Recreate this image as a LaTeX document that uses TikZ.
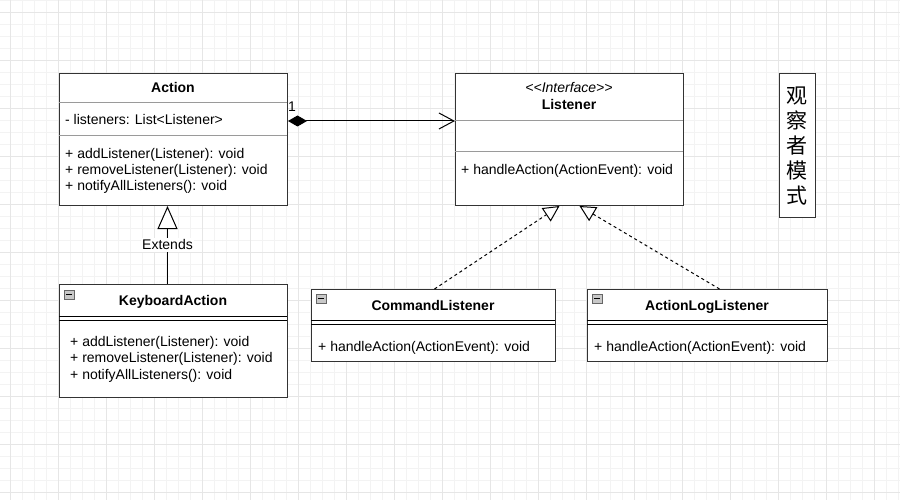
\documentclass[tikz,border=0pt]{standalone}
\usepackage{fontspec}
\setmainfont{Liberation Sans}
\newfontfamily\cjk{Noto Sans CJK SC}
\usetikzlibrary{arrows.meta,calc}
\definecolor{boxc}{HTML}{333333}
\definecolor{divc}{HTML}{9A9A9A}
\definecolor{gridminor}{HTML}{F3F3F3}
\definecolor{gridmajor}{HTML}{E6E6E6}
\definecolor{iconfill}{HTML}{C8C8C8}
\begin{document}
\begin{tikzpicture}[x=1pt,y=-1pt,
  every node/.style={font=\fontsize{14}{16}\selectfont, text=black, inner sep=0pt},
  box/.style={draw=boxc, line width=1pt, fill=white, anchor=north west},
  divline/.style={draw=divc, line width=1pt},
  dblline/.style={draw=black, line width=0.9pt},
  ttl/.style={font=\fontsize{14}{16}\selectfont\bfseries, text height=10pt, text depth=1pt},
  mem/.style={anchor=west, text height=10pt, text depth=1pt},
  stereo/.style={font=\fontsize{14}{16}\selectfont\itshape, text height=10pt, text depth=1pt},
  icon/.style={draw=black!60, fill=iconfill, line width=0.6pt},
  conn/.style={draw=black, line width=1pt},
]
\useasboundingbox (0,0) rectangle (900,500);
\fill[white] (0,0) rectangle (900,500);
% grid
\foreach \i in {0,...,76} {\draw[gridminor, line width=0.8pt] ({-1.3+12*\i},0) -- ({-1.3+12*\i},500);}
\foreach \j in {0,...,42} {\draw[gridminor, line width=0.8pt] (0,{12*\j}) -- (900,{12*\j});}
\foreach \i in {0,...,19} {\draw[gridmajor, line width=0.8pt] ({10.7+48*\i},0) -- ({10.7+48*\i},500);}
\foreach \j in {0,...,10} {\draw[gridmajor, line width=0.8pt] (0,{12+48*\j}) -- (900,{12+48*\j});}

% Action
\node[box, minimum width=228pt, minimum height=132pt] (action) at (59,73) {};
\draw[divline] (59,103) -- (287,103);
\draw[divline] (59,136) -- (287,136);
\node[ttl] (actiont) at (173,88) {Action};
\node[mem] (actiona) at (65,120) {- listeners: List<Listener>};
\node[mem] (actionm1) at (65,154) {+ addListener(Listener): void};
\node[mem] (actionm2) at (65,170) {+ removeListener(Listener): void};
\node[mem] (actionm3) at (65,186) {+ notifyAllListeners(): void};

% Listener
\node[box, minimum width=228pt, minimum height=132pt] (listener) at (455,73) {};
\draw[divline] (455,121) -- (683,121);
\draw[divline] (455,152) -- (683,152);
\node[stereo] (listeners) at (569,88) {<{}<Interface>{}>};
\node[ttl] (listenert) at (569,105) {Listener};
\node[mem] (listenerm) at (461,170) {+ handleAction(ActionEvent): void};

% title box
\node[box, minimum width=36pt, minimum height=144pt] (titlebox) at (779,73) {};
\node[font=\cjk\fontsize{21}{25}\selectfont, align=center] (titletext) at (797,146) {观\\察\\者\\模\\式};

% KeyboardAction
\node[box, minimum width=228pt, minimum height=113pt] (kb) at (59,284) {};
\draw[dblline] (59,316) -- (287,316);
\draw[dblline] (59,320) -- (287,320);
\draw[icon] (64,290) rectangle (74,299);
\draw[black, line width=0.9pt] (66,294.5) -- (72,294.5);
\node[ttl] (kbt) at (173,301) {KeyboardAction};
\node[mem] (kbm1) at (70,342) {+ addListener(Listener): void};
\node[mem] (kbm2) at (70,358) {+ removeListener(Listener): void};
\node[mem] (kbm3) at (70,375) {+ notifyAllListeners(): void};

% CommandListener
\node[box, minimum width=244pt, minimum height=72pt] (cmd) at (311,289) {};
\draw[dblline] (311,320.5) -- (555,320.5);
\draw[dblline] (311,324.5) -- (555,324.5);
\draw[icon] (316,294) rectangle (326,303);
\draw[black, line width=0.9pt] (318,298.5) -- (324,298.5);
\node[ttl] (cmdt) at (433,306) {CommandListener};
\node[mem] (cmdm) at (318,347) {+ handleAction(ActionEvent): void};

% ActionLogListener
\node[box, minimum width=240pt, minimum height=72pt] (alog) at (587,289) {};
\draw[dblline] (587,320.5) -- (827,320.5);
\draw[dblline] (587,324.5) -- (827,324.5);
\draw[icon] (592,294) rectangle (602,303);
\draw[black, line width=0.9pt] (594,298.5) -- (600,298.5);
\node[ttl] (alogt) at (707,306) {ActionLogListener};
\node[mem] (alogm) at (594,347) {+ handleAction(ActionEvent): void};

% composition
\path (action.north east) ++(0,48) coordinate (ca);
\path (listener.north west) ++(0,48) coordinate (la);
\draw[conn, {Diamond[length=19pt,width=11pt]}-{Straight Barb[length=15pt,width=16pt]}] (ca) -- (la);
\node (one) at (292,107) {1};

% extends
\draw[conn, -{Triangle[open,fill=white,length=23pt,width=20pt]}] ([xshift=-6pt]kb.north) -- node[fill=white, inner sep=1.5pt, text height=10pt, text depth=1pt] (ext) {Extends} ([xshift=-6pt]action.south);

% realizations
\coordinate (r1) at ([xshift=-10pt]listener.south);
\coordinate (r2) at ([xshift=10pt]listener.south);
\draw[conn, dash pattern=on 3pt off 3pt, -{Triangle[open,fill=white,length=16pt,width=16pt]}] ([xshift=1pt]cmd.north) -- (r1);
\draw[conn, dash pattern=on 3pt off 3pt, -{Triangle[open,fill=white,length=16pt,width=16pt]}] ([xshift=12pt]alog.north) -- (r2);
\end{tikzpicture}
\end{document}
